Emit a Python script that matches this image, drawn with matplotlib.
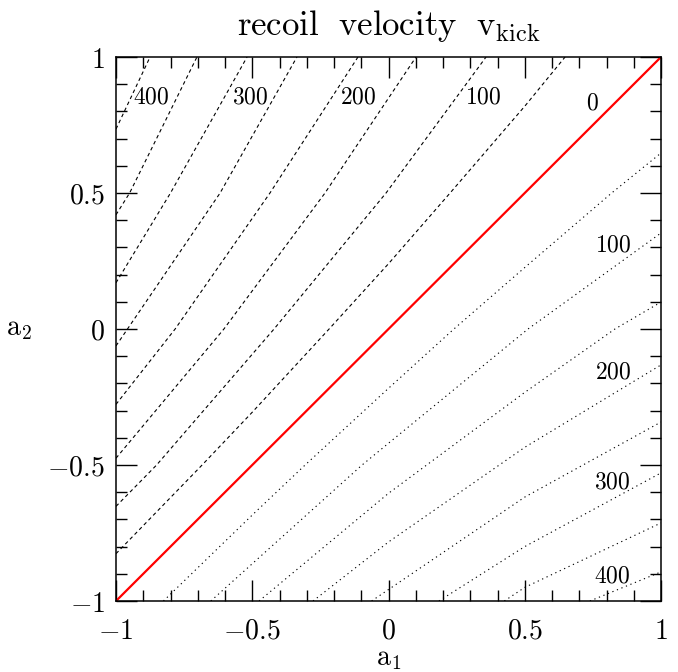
import numpy as np
import matplotlib
matplotlib.use("Agg")
import matplotlib.pyplot as plt
from matplotlib.ticker import MultipleLocator, FuncFormatter

# contour levels of v_kick (km/s)
levels = [50, 100, 150, 200, 250, 300, 350, 400]

# upper-left contours (a2 > a1), points (a1, a2)
upper_a1 = {
    50: [-1.0, -0.684, -0.5, -0.218, 0.0, 0.226, 0.5, 0.648],
    100: [-1.0, -0.851, -0.420, -0.009, 0.358],
    150: [-1.0, -0.604, -0.233, 0.101],
    200: [-1.0, -0.783, -0.435, -0.112],
    250: [-1.0, -0.618, -0.336],
    300: [-1.0, -0.800, -0.519],
    350: [-1.0, -0.950, -0.703],
    400: [-1.0, -0.875],
}
upper_a2 = {
    50: [-0.826, -0.5, -0.306, 0.0, 0.240, 0.5, 0.819, 1.0],
    100: [-0.652, -0.5, 0.0, 0.5, 1.0],
    150: [-0.475, 0.0, 0.5, 1.0],
    200: [-0.277, 0.0, 0.5, 1.0],
    250: [-0.062, 0.5, 1.0],
    300: [0.170, 0.5, 1.0],
    350: [0.420, 0.5, 1.0],
    400: [0.735, 1.0],
}

# lower-right contours (a2 < a1)
lower_a1 = {
    50: [-0.826, -0.5, -0.306, 0.0, 0.240, 0.5, 0.819, 1.0],
    100: [-0.652, -0.097, 0.0, 0.512, 1.0],
    150: [-0.475, 0.0, 0.5, 0.831, 1.0],
    200: [-0.277, 0.0, 0.5, 1.0],
    250: [-0.062, 0.5, 1.0],
    300: [0.185, 0.5, 1.0],
    350: [0.425, 0.5, 1.0],
    400: [0.739, 1.0],
}
lower_a2 = {
    50: [-1.0, -0.684, -0.5, -0.218, 0.0, 0.226, 0.5, 0.647],
    100: [-1.0, -0.5, -0.420, 0.0, 0.353],
    150: [-1.0, -0.604, -0.233, 0.0, 0.099],
    200: [-1.0, -0.783, -0.435, -0.132],
    250: [-1.0, -0.618, -0.342],
    300: [-1.0, -0.800, -0.529],
    350: [-1.0, -0.950, -0.713],
    400: [-1.0, -0.893],
}

# zero-recoil line a1 = a2
zero_a1 = [-1.0, 1.0]
zero_a2 = [-1.0, 1.0]

# contour labels
top_labels = ["400", "300", "200", "100", "0"]
top_label_a1 = [-0.872, -0.508, -0.112, 0.347, 0.750]
top_label_a2 = [0.853, 0.853, 0.853, 0.853, 0.83]
right_labels = ["100", "200", "300", "400"]
right_label_a1 = [0.824, 0.824, 0.82, 0.82]
right_label_a2 = [0.309, -0.158, -0.5625, -0.908]

plt.rcParams['mathtext.fontset'] = 'cm'
plt.rcParams['font.family'] = 'serif'
plt.rcParams['font.serif'] = ['DejaVu Serif']
plt.rcParams['lines.scale_dashes'] = False

fig = plt.figure(figsize=(6.78, 6.72), dpi=100)
ax = fig.add_axes([116 / 678, 71 / 672, 545 / 678, 544 / 672])

for lev in levels:
    ax.plot(upper_a1[lev], upper_a2[lev], color='black', lw=0.8,
            dashes=(2.6, 2.2))
    ax.plot(lower_a1[lev], lower_a2[lev], color='black', lw=0.8,
            dashes=(0.9, 2.6))
ax.plot(zero_a1, zero_a2, color='red', lw=1.6)

for t, x, y in zip(top_labels, top_label_a1, top_label_a2):
    ax.text(x, y, '$' + t + '$', fontsize=17, ha='center', va='center')
for t, x, y in zip(right_labels, right_label_a1, right_label_a2):
    ax.text(x, y, '$' + t + '$', fontsize=17, ha='center', va='center')

ax.set_xlim(-1, 1)
ax.set_ylim(-1, 1)
for a in (ax.xaxis, ax.yaxis):
    a.set_major_locator(MultipleLocator(0.5))
    a.set_minor_locator(MultipleLocator(0.1))
    a.set_major_formatter(FuncFormatter(
        lambda v, p: '$%g$' % (0 if abs(v) < 1e-9 else v)))
ax.tick_params(which='both', direction='in', top=True, right=True, width=1.0)
ax.tick_params(which='major', length=15, labelsize=20)
ax.tick_params(which='minor', length=8)
ax.tick_params(axis='x', which='major', pad=12)
ax.tick_params(axis='y', which='major', pad=8)
for s in ax.spines.values():
    s.set_linewidth(1.1)

ax.set_xlabel(r'$\mathrm{a_1}$', fontsize=20, labelpad=0)
ax.set_ylabel(r'$\mathrm{a_2}$', fontsize=20, rotation=0, labelpad=20,
              va='center')
ax.set_title(r'$\mathrm{recoil\ \ velocity\ \ v_{kick}}$',
             fontsize=25, pad=16)

fig.savefig('out.png', dpi=100)
